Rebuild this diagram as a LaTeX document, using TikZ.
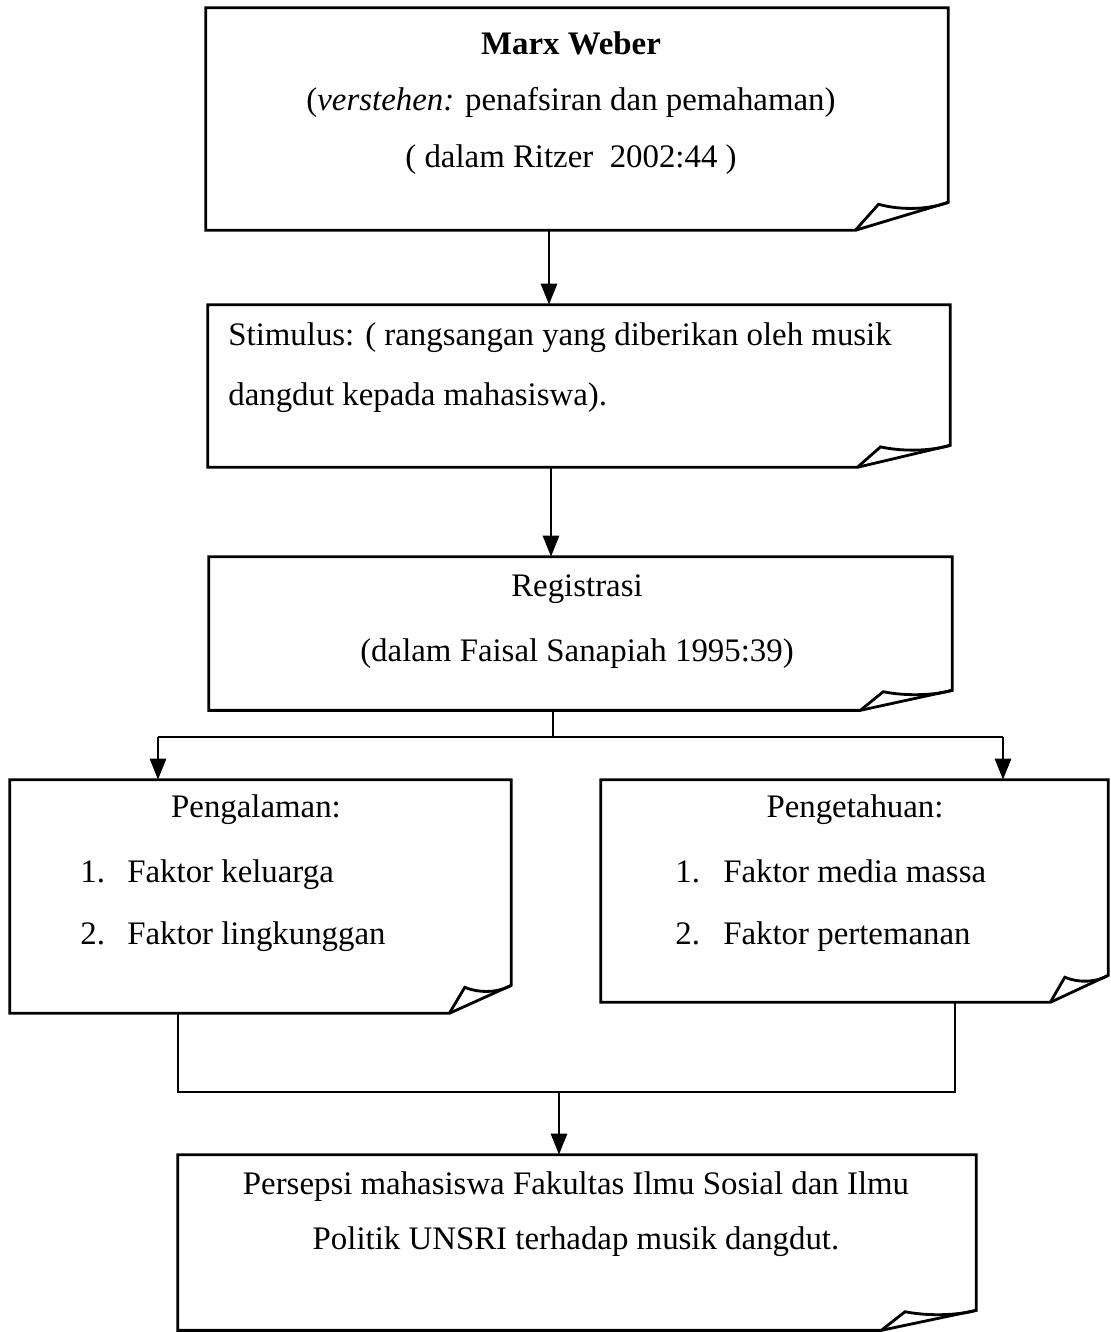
\documentclass[tikz,border=0pt]{standalone}
\usepackage{fontspec}
\setmainfont{Liberation Serif}
\usepackage{tikz}
\usetikzlibrary{arrows.meta,calc}

\tikzset{
  frame/.style={line width=1.6pt},
  arr/.style={line width=1.6pt,-{Triangle[length=0.42cm,width=0.32cm]}},
  box/.style={rectangle,inner sep=0pt},
  txt/.style={inner sep=0pt,font=\fontsize{18.7}{32.3}\selectfont},
}

% frame with a folded bottom right corner: node, fold width, fold height
\newcommand{\foldframe}[3]{%
  \draw[frame] (#1.north west) -- (#1.north east) -- ($(#1.south east)+(0,-#3)$)
    -- ($(#1.south east)+(-#2,0)$) -- (#1.south west) -- cycle;
  \draw[frame] ($(#1.south east)+(-#2,0)$) -- ($(#1.south east)+(-0.75*#2,-0.93*#3)$)
    .. controls ($(#1.south east)+(-0.5*#2,-0.7*#3)$) and ($(#1.south east)+(-0.2*#2,-0.75*#3)$)
    .. ($(#1.south east)+(0,-#3)$);
}

\begin{document}
\begin{tikzpicture}[x=0.02cm,y=-0.02cm]
  \useasboundingbox (0,0) rectangle (1111,1332);

  % boxes
  \node[box,minimum width=14.84cm,minimum height=4.44cm] (weber) at (577,119) {};
  \node[box,minimum width=14.84cm,minimum height=3.24cm] (stim) at (579,386) {};
  \node[box,minimum width=14.86cm,minimum height=3.06cm] (reg) at (580.5,633.5) {};
  \node[box,minimum width=10.02cm,minimum height=4.66cm] (peng) at (260.5,896.5) {};
  \node[box,minimum width=10.14cm,minimum height=4.44cm] (pengt) at (854.5,891) {};
  \node[box,minimum width=15.96cm,minimum height=3.5cm] (persepsi) at (577,1242.5) {};

  \foldframe{weber}{93}{28}
  \foldframe{stim}{93}{22}
  \foldframe{reg}{92}{20}
  \foldframe{peng}{62}{28}
  \foldframe{pengt}{58}{27}
  \foldframe{persepsi}{95}{20}

  % texts
  \node[txt,align=center] (tweber) at (571,103) {\textbf{Marx Weber}\\(\textit{verstehen:} penafsiran dan pemahaman)\\( dalam Ritzer\ \ 2002:44 )};
  \node[txt,align=left,anchor=west,font=\fontsize{18.7}{34}\selectfont] (tstim) at (228,368) {Stimulus: ( rangsangan yang diberikan oleh musik\\dangdut kepada mahasiswa).};
  \node[txt,align=center,font=\fontsize{18.7}{36.9}\selectfont] (treg) at (577,622) {Registrasi\\(dalam Faisal Sanapiah 1995:39)};
  \node[txt] (tpeng) at (256,810) {Pengalaman:};
  \node[txt,align=left,anchor=west,font=\fontsize{18.7}{35.2}\selectfont] (lpeng) at (80,906) {\makebox[0.94cm][l]{1.}Faktor keluarga\\\makebox[0.94cm][l]{2.}Faktor lingkunggan};
  \node[txt] (tpengt) at (855,810) {Pengetahuan:};
  \node[txt,align=left,anchor=west,font=\fontsize{18.7}{35.2}\selectfont] (lpengt) at (675,906) {\makebox[0.96cm][l]{1.}Faktor media massa\\\makebox[0.96cm][l]{2.}Faktor pertemanan};
  \node[txt,align=center,font=\fontsize{18.7}{31.2}\selectfont] (tpersepsi) at (576,1214) {Persepsi mahasiswa Fakultas Ilmu Sosial dan Ilmu\\Politik UNSRI terhadap musik dangdut.};

  % connectors
  \coordinate (a1) at (549,0);
  \coordinate (a2) at (551,0);
  \draw[arr] (a1 |- weber.south) -- (a1 |- stim.north);
  \draw[arr] (a2 |- stim.south) -- (a2 |- reg.north);

  \coordinate (split) at (553,737);
  \coordinate (sl) at (158,737);
  \coordinate (sr) at (1003,737);
  \draw[frame] (split |- reg.south) -- (split);
  \draw[frame] (sl) -- (sr);
  \draw[arr] (sl) -- (sl |- peng.north);
  \draw[arr] (sr) -- (sr |- pengt.north);

  \coordinate (jl) at (178,1092);
  \coordinate (jr) at (955,1092);
  \coordinate (jm) at (559,1092);
  \draw[frame] (jl |- peng.south) -- (jl) -- (jr) -- (jr |- pengt.south);
  \draw[arr] (jm) -- (jm |- persepsi.north);
\end{tikzpicture}
\end{document}
